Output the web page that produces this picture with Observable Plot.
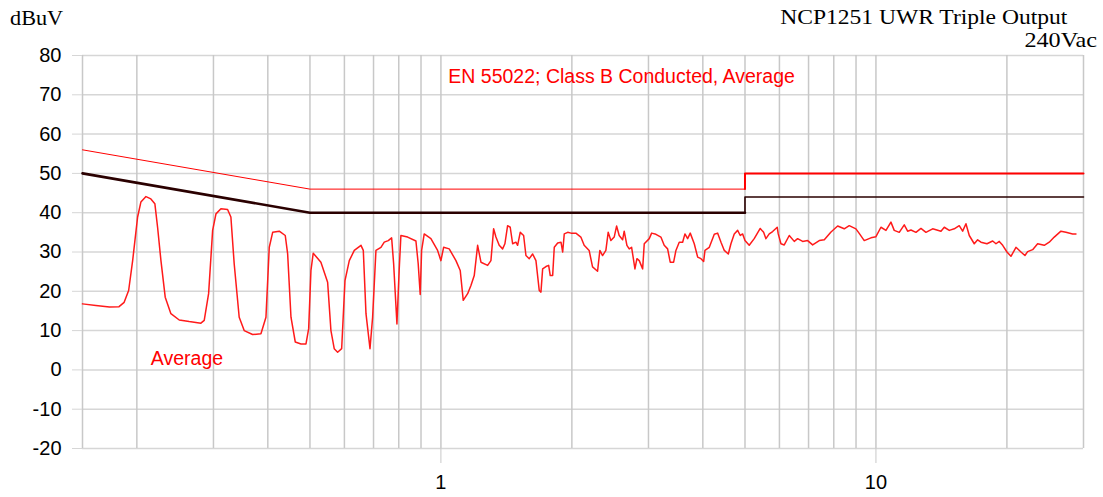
<!DOCTYPE html>
<html><head><meta charset="utf-8">
<script src="https://cdn.jsdelivr.net/npm/d3@7"></script>
<script src="https://cdn.jsdelivr.net/npm/@observablehq/plot@0.6"></script>
<style>
body{margin:0;background:#fff;}
#wrap{position:relative;width:1103px;height:497px;overflow:hidden;}
.t{position:absolute;font-family:"Liberation Serif","Times New Roman",serif;color:#000;white-space:nowrap;line-height:1;}
</style></head><body>
<div id="wrap">
<div class="t" style="left:10px;top:8px;font-size:21px;transform:scaleX(1.06);transform-origin:left">dBuV</div>
<div class="t" style="right:36px;top:6px;font-size:22px;transform:scaleX(1.07);transform-origin:right">NCP1251 UWR Triple Output</div>
<div class="t" style="right:6px;top:29px;font-size:22px;transform:scaleX(1.1);transform-origin:right">240Vac</div>
</div>
<script>
// Measured average emission (frequency in MHz, level in dBuV)
const freqMHz = [0.150,0.161,0.173,0.182,0.187,0.1915,0.1956,0.2008,0.2043,0.2099,0.2154,0.2200,0.2232,0.2272,0.2324,0.2395,0.2503,0.2638,0.2807,0.2857,0.2924,0.2987,0.3040,0.3121,0.3233,0.3290,0.3348,0.3438,0.3530,0.3690,0.3857,0.3961,0.4031,0.4104,0.4250,0.4387,0.4443,0.4522,0.4626,0.4768,0.4896,0.4966,0.5026,0.5087,0.5298,0.5490,0.5587,0.5685,0.5789,0.5913,0.6018,0.6157,0.6322,0.6550,0.6631,0.6726,0.6870,0.6966,0.7090,0.7280,0.7409,0.7567,0.7704,0.7786,0.7923,0.8017,0.8091,0.8385,0.8761,0.8867,0.8962,0.9029,0.9154,0.9484,0.9826,1.000,1.0144,1.0449,1.0828,1.1076,1.1254,1.1519,1.1722,1.1929,1.2145,1.2360,1.2806,1.3030,1.3217,1.3380,1.3614,1.3861,1.4031,1.4233,1.4431,1.4616,1.4874,1.5008,1.5217,1.5493,1.5683,1.5960,1.6249,1.6536,1.6828,1.6980,1.7134,1.7436,1.7687,1.7838,1.8066,1.8221,1.8552,1.8880,1.9050,1.9210,1.9563,1.9909,2.0426,2.0972,2.1343,2.1915,2.2313,2.2912,2.3193,2.3527,2.3943,2.4237,2.4586,2.5021,2.5340,2.5693,2.6159,2.6383,2.6763,2.7092,2.7437,2.7925,2.8223,2.8569,2.9087,2.9336,3.0122,3.0505,3.1209,3.2038,3.2604,3.3197,3.3660,3.4270,3.4691,3.5304,3.5944,3.6386,3.6910,3.7424,3.8226,3.8919,3.9608,4.0178,4.0457,4.1390,4.2500,4.3272,4.4037,4.4814,4.5774,4.6416,4.7236,4.8092,4.8762,4.9385,5.000,5.1132,5.2505,5.4200,5.5184,5.5861,5.6848,5.7878,5.9300,5.9623,6.0481,6.1551,6.3202,6.4898,6.6069,6.7841,6.9663,7.1534,7.4088,7.6076,7.8831,8.1658,8.4547,8.6815,8.9950,9.1700,9.3998,9.7387,10.00,10.268,10.544,10.826,11.017,11.313,11.617,11.827,12.036,12.359,12.690,13.031,13.191,13.501,14.108,14.358,14.743,15.136,15.542,15.824,16.103,16.388,16.827,17.132,17.435,17.998,18.550,18.877,19.208,19.560,20.007,20.436,20.985,21.544,22.005,22.321,22.919,23.533,24.372,25.026,25.697,26.623,27.339,28.325,28.826,29.336,29.9];
const levelDbuV = [16.8,16.4,16.0,16.1,17.2,20.2,27.8,38.9,42.7,44.1,43.5,42.3,36.3,27.8,18.5,14.3,12.7,12.3,11.9,12.6,19.4,35.5,39.7,41.0,40.8,38.9,27.0,13.4,10.0,9.0,9.2,13.4,31.2,35.0,35.3,34.2,29.5,13.4,7.1,6.6,6.6,10.5,25.3,29.7,27.4,22.3,10.0,5.4,4.5,5.4,22.7,27.8,30.4,31.7,30.4,14.3,5.4,13.4,30.4,31.2,32.5,32.9,33.6,27.0,11.7,25.3,34.2,33.8,32.8,27.0,19.2,30.4,34.6,33.4,30.4,27.8,31.2,30.8,27.8,25.3,17.7,19.4,21.5,24.0,31.7,27.4,26.6,27.8,35.9,33.8,31.7,30.8,32.1,36.7,36.3,32.1,32.5,31.7,35.0,34.2,29.1,28.3,29.5,27.8,20.2,19.8,25.7,26.3,26.6,24.0,24.0,31.2,32.3,32.5,30.0,34.6,35.0,34.8,34.8,33.8,31.7,30.4,26.2,25.1,30.4,29.1,30.4,35.0,32.9,33.8,36.6,34.2,33.1,35.3,31.7,30.8,31.2,25.7,28.3,27.8,25.7,32.1,33.4,34.8,34.5,33.8,31.7,30.8,27.4,27.4,30.4,32.5,32.5,34.6,33.4,34.8,32.1,28.7,28.3,27.6,30.4,31.2,34.5,34.8,32.5,30.4,29.5,32.1,34.6,35.5,34.2,34.6,32.9,31.7,33.4,36.0,35.0,33.4,34.6,35.2,36.3,34.6,32.1,31.8,34.2,32.7,33.4,32.7,32.9,31.8,32.9,33.1,35.1,36.6,35.9,36.7,35.9,34.6,32.9,33.6,33.9,36.3,35.5,37.6,35.5,35.0,36.9,35.3,35.6,35.0,36.0,35.0,35.3,35.9,35.3,36.3,35.5,35.9,36.7,35.3,37.2,34.2,32.1,33.1,32.5,32.1,32.8,32.1,32.7,31.7,30.0,28.9,31.2,30.0,29.1,30.1,30.6,32.1,31.7,32.5,33.8,35.3,35.0,34.6,34.6];

// EN 55022 Class B average limit and 6 dB margin line
const limitFreq = [0.15, 0.5, 5, 5, 30];
const avgLimit = [56, 46, 46, 50, 50];
const marginLimit = [50, 40, 40, 44, 44];

// Axis ticks / grid
const yTicks = [-20, -10, 0, 10, 20, 30, 40, 50, 60, 70, 80];
const xGrid = [0.15,0.2,0.3,0.4,0.5,0.6,0.7,0.8,0.9,1,2,3,4,5,6,7,8,9,10,20,30];
const xLabels = [1, 10];

// Annotations
const noteText = ["EN 55022; Class B Conducted, Average", "Average"];
const noteFreq = [1.04, 0.2154];
const noteLevel = [74.7, 2.9];

const n = Math.min(freqMHz.length, levelDbuV.length);
const measured = freqMHz.slice(0, n).map((f, i) => ({f, v: levelDbuV[i]}));
const avgRows = limitFreq.map((f, i) => ({f, v: avgLimit[i]}));
const marRows = limitFreq.map((f, i) => ({f, v: marginLimit[i]}));
const notes = noteText.map((s, i) => ({s, f: noteFreq[i], v: noteLevel[i]}));

const chart = Plot.plot({
  width: 1103, height: 497,
  marginLeft: 82, marginRight: 20, marginTop: 55, marginBottom: 49,
  x: {type: "log", domain: [0.15, 30]},
  y: {domain: [-20, 80]},
  style: {fontFamily: "'Liberation Sans', Arial, sans-serif", fontSize: "20px", color: "black", background: "transparent", overflow: "visible"},
  marks: [
    Plot.ruleY(yTicks, {stroke: "#d6d6d6", strokeWidth: 1.5}),
    Plot.ruleX(xGrid, {stroke: "#c8c8c8", strokeWidth: 1.5}),
    Plot.axisY(yTicks, {tickSize: 10, tickPadding: 11, stroke: "#d6d6d6", fill: "black", fontSize: 20, tickFormat: d => String(d), label: null}),
    Plot.axisX(xLabels, {tickSize: 15, tickPadding: 11, stroke: "#c8c8c8", fill: "black", fontSize: 20, tickFormat: d => String(d), label: null}),
    Plot.line(avgRows.slice(0, 3), {x: "f", y: "v", stroke: "#ff0000", strokeWidth: 1}),
    Plot.line(avgRows.slice(2), {x: "f", y: "v", stroke: "#ff0000", strokeWidth: 2}),
    Plot.line(marRows.slice(0, 3), {x: "f", y: "v", stroke: "#2a0000", strokeWidth: 2.6}),
    Plot.line(marRows.slice(2), {x: "f", y: "v", stroke: "#2a0000", strokeWidth: 1.6}),
    Plot.line(measured, {x: "f", y: "v", stroke: "#ff1a1a", strokeWidth: 1.5}),
    Plot.text(notes, {x: "f", y: "v", text: "s", textAnchor: "start", fill: "#ff0000", fontSize: 19.5})
  ]
});
document.getElementById("wrap").prepend(chart);
chart.style.position = "absolute";
chart.style.left = "0";
chart.style.top = "0";
</script>
</body></html>
